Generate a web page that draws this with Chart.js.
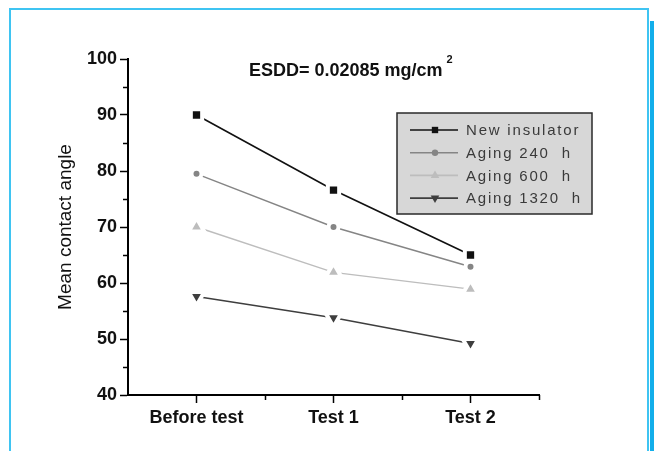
<!DOCTYPE html>
<html>
<head>
<meta charset="utf-8">
<script src="https://cdn.jsdelivr.net/npm/chart.js@4.4.1/dist/chart.umd.min.js"></script>
<style>
  html, body { margin: 0; padding: 0; background: #fff; }
  canvas { display: block; }
</style>
</head>
<body>
<canvas id="chart" width="654" height="451"></canvas>
<script>
// values
const categories = ['Before test', 'Test 1', 'Test 2'];
const newInsulator = [90, 76.6, 65];
const aging240 = [79.5, 70, 62.9];
const aging600 = [70, 61.9, 58.9];
const aging1320 = [57.6, 53.8, 49.2];
const seriesNames = ['New insulator', 'Aging 240  h', 'Aging 600  h', 'Aging 1320  h'];
const yTicks = [40, 50, 60, 70, 80, 90, 100];

const colors = ['#111111', '#858585', '#bdbdbd', '#3e3e3e'];
const styles = ['rect', 'circle', 'triangle', 'triangle'];
const rotations = [0, 0, 0, 180];
const radii = [8, 5, 9, 9];

const ctx = document.getElementById('chart');

function makeSet(i, values) {
  return {
    label: seriesNames[i],
    data: values,
    borderColor: colors[i],
    borderWidth: i == 0 ? 1.6 : 1.4,
    pointStyle: styles[i],
    pointRotation: rotations[i],
    pointRadius: radii[i],
    pointBackgroundColor: colors[i],
    pointBorderColor: '#ffffff',   // white halo gives the gap around each marker
    pointBorderWidth: 4,
    tension: 0
  };
}

// frame, title, minor ticks and the boxed legend
const extras = {
  id: 'extras',
  beforeDraw(chart) {
    const c = chart.ctx;
    c.save();
    c.strokeStyle = '#3fc4f2';
    c.lineWidth = 2;
    c.beginPath();
    c.moveTo(10, 451); c.lineTo(10, 9); c.lineTo(648, 9); c.lineTo(648, 451);
    c.stroke();
    c.fillStyle = '#12aeea';
    c.fillRect(650, 21, 4, 430);
    c.restore();
  },
  afterDraw(chart) {
    const c = chart.ctx;
    const x = chart.scales.x, y = chart.scales.y;
    c.save();

    // minor ticks
    c.strokeStyle = '#000';
    c.lineWidth = 1.5;
    c.beginPath();
    for (let v = yTicks[0] + 5; v < yTicks[yTicks.length - 1]; v += 10) {
      const py = Math.round(y.getPixelForValue(v)) + 0.5;
      c.moveTo(x.left - 5, py); c.lineTo(x.left, py);
    }
    for (let k = 0.5; k <= categories.length - 0.5; k += 1) {
      const px = Math.round(x.getPixelForValue(k)) + 0.5;
      c.moveTo(px, y.bottom); c.lineTo(px, y.bottom + 5);
    }
    c.stroke();

    // title
    c.fillStyle = '#111';
    c.font = 'bold 18px "Liberation Sans", Arial, sans-serif';
    c.textBaseline = 'middle';
    c.textAlign = 'left';
    const t = 'ESDD= 0.02085 mg/cm';
    c.fillText(t, 249, 71);
    const w = c.measureText(t).width;
    c.font = 'bold 11px "Liberation Sans", Arial, sans-serif';
    c.fillText('2', 249 + w + 4, 60);

    // legend box
    const bx = 397, by = 113, bw = 195, bh = 101;
    c.fillStyle = '#d7d7d7';
    c.fillRect(bx, by, bw, bh);
    c.strokeStyle = '#2a2a2a';
    c.lineWidth = 1.5;
    c.strokeRect(bx, by, bw, bh);

    c.font = '15px "Liberation Sans", Arial, sans-serif';
    c.letterSpacing = '1.8px';
    chart.data.datasets.forEach((ds, i) => {
      const ry = by + 17 + i * 22.7;
      c.strokeStyle = ds.borderColor;
      c.lineWidth = 1.6;
      c.beginPath();
      c.moveTo(410, ry); c.lineTo(458, ry);
      c.stroke();
      c.fillStyle = ds.borderColor;
      Chart.helpers.drawPoint(c, {
        pointStyle: ds.pointStyle,
        rotation: ds.pointRotation,
        radius: [4.5, 3.2, 5, 5][i],
        borderWidth: 0
      }, 435, ry);
      c.fillStyle = '#3a3a3a';
      c.fillText(ds.label, 466, ry + 1);
    });
    c.restore();
  }
};

const chart = new Chart(ctx, {
  type: 'line',
  data: {
    labels: categories,
    datasets: [
      makeSet(0, newInsulator),
      makeSet(1, aging240),
      makeSet(2, aging600),
      makeSet(3, aging1320)
    ]
  },
  options: {
    responsive: false,
    animation: false,
    events: [],
    layout: { padding: { top: 59, right: 115, bottom: 0, left: 0 } },
    plugins: {
      legend: { display: false },
      title: { display: false },
      tooltip: { enabled: false }
    },
    scales: {
      x: {
        type: 'category',
        offset: true,
        grid: { display: true, offset: false, drawOnChartArea: false, tickLength: 8, tickColor: '#000', tickWidth: 1.5 },
        border: { display: true, color: '#000', width: 2 },
        ticks: { color: '#111', padding: 4, font: { family: '"Liberation Sans", Arial', size: 18, weight: 'bold' } },
        afterFit(s) { s.height = 56; }
      },
      y: {
        min: 40,
        max: 100,
        afterBuildTicks(s) { s.ticks = yTicks.map(v => ({ value: v })); },
        grid: { display: true, drawOnChartArea: false, tickLength: 8, tickColor: '#000', tickWidth: 1.5 },
        border: { display: true, color: '#000', width: 2 },
        ticks: { color: '#111', padding: 3, font: { family: '"Liberation Sans", Arial', size: 18, weight: 'bold' } },
        title: {
          display: true,
          text: 'Mean contact angle',
          color: '#111',
          padding: { top: 54, bottom: 0 },
          font: { family: '"Liberation Sans", Arial', size: 19 }
        },
        afterFit(s) { s.width = 128; }
      }
    }
  },
  plugins: [extras]
});
</script>
</body>
</html>
